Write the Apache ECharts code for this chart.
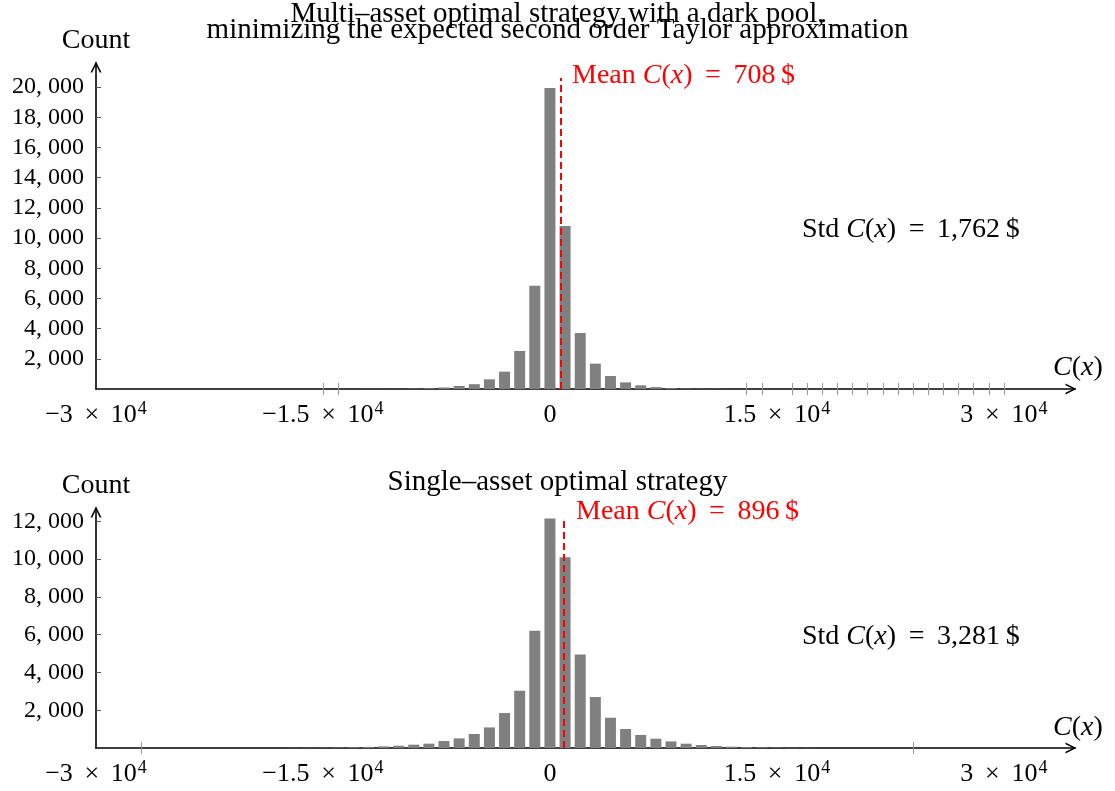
<!DOCTYPE html>
<html lang="en">
<head>
    <meta charset="UTF-8">
    <title>Multi-asset vs single-asset cost histograms</title>
    <style>
        html, body { margin: 0; padding: 0; background: #fff; }
        #main { width: 1115px; height: 791px; }
    </style>
</head>
<body>
    <div id="main"></div>
    <script src="https://cdn.jsdelivr.net/npm/echarts@6/dist/echarts.min.js"></script>
    <script>
        // histogram bins (bin centre in $) and counts
        var multiBins   = [-12000, -11000, -10000, -9000, -8000, -7000, -6000, -5000, -4000, -3000, -2000, -1000, 0, 1000, 2000, 3000, 4000, 5000, 6000, 7000, 8000, 9000, 10000, 11000];
        var multiCounts = [5, 8, 12, 25, 50, 105, 200, 320, 640, 1150, 2520, 6840, 19950, 10800, 3710, 1680, 860, 440, 245, 130, 60, 30, 15, 8];

        var singleBins   = [-17000, -16000, -15000, -14000, -13000, -12000, -11000, -10000, -9000, -8000, -7000, -6000, -5000, -4000, -3000, -2000, -1000, 0, 1000, 2000, 3000, 4000, 5000, 6000, 7000, 8000, 9000, 10000, 11000, 12000, 13000, 14000, 15000, 16000, 17000];
        var singleCounts = [5, 10, 15, 25, 40, 60, 85, 120, 175, 230, 370, 510, 740, 1090, 1850, 3030, 6210, 12150, 10090, 4950, 2700, 1600, 1005, 690, 492, 350, 228, 160, 105, 70, 50, 35, 25, 15, 10];

        var multiMean = 708;
        var singleMean = 896;
        var multiStd = '1,762';
        var singleStd = '3,281';

        var xLabelValues = [-30000, -15000, 0, 15000, 30000];
        var SP = ' \u2009';
        var xLabelText = {
            '-30000': '{b|\u22123' + SP + '\u00d7' + SP + '10}{s|4}',
            '-15000': '{b|\u22121.5' + SP + '\u00d7' + SP + '10}{s|4}',
            '0': '{b|0}',
            '15000': '{b|1.5' + SP + '\u00d7' + SP + '10}{s|4}',
            '30000': '{b|3' + SP + '\u00d7' + SP + '10}{s|4}'
        };
        var multiXTicks = [-15000, -14000, 13000, 14000, 16000, 17000, 18000, 19000, 20000, 21000, 22000, 23000, 24000, 25000, 26000, 27000, 28000, 29000, 30000];
        var singleXTicks = [-27000, 24000];
        var multiYTicks = [2000, 4000, 6000, 8000, 10000, 12000, 14000, 16000, 18000, 20000];
        var singleYTicks = [2000, 4000, 6000, 8000, 10000, 12000];

        var FONT = 'Liberation Serif';
        var arrow = 'path://M0,10 L5,0 L10,10 L8.4,10 L5,3 L1.6,10 Z';

        function pairs(xs, ys) {
            var out = [];
            for (var i = 0; i < xs.length; i++) out.push([xs[i], ys[i]]);
            return out;
        }

        function yFmt(v) {
            return String(v).replace(/(\d+)(\d{3})$/, '$1, $2');
        }

        var TS = 28;
        var rich = {
            n: { fontFamily: FONT, fontSize: TS, fontWeight: 'normal', color: '#000' },
            i: { fontFamily: FONT, fontSize: TS, fontWeight: 'normal', color: '#000', fontStyle: 'italic' },
            rn: { fontFamily: FONT, fontSize: TS, fontWeight: 'normal', color: '#ff0000' },
            ri: { fontFamily: FONT, fontSize: TS, fontWeight: 'normal', color: '#ff0000', fontStyle: 'italic' }
        };
        var EQ = ' \u2009=\u2009 ';

        function mainX(grid, ticks) {
            return {
                type: 'value', gridIndex: grid, min: -30000, max: 34700,
                splitLine: { show: false },
                axisLine: { show: true, onZero: false, symbol: ['none', arrow], symbolSize: [11, 11], symbolOffset: [0, -4],
                            lineStyle: { color: '#000', width: 1.6 } },
                axisTick: { show: true, inside: false, length: 6, customValues: ticks, lineStyle: { color: '#999', width: 1 } },
                axisLabel: {
                    customValues: xLabelValues, margin: 11,
                    formatter: function (v) { return xLabelText[String(v)]; },
                    rich: {
                        b: { fontFamily: FONT, fontSize: 26, color: '#000', lineHeight: 30 },
                        s: { fontFamily: FONT, fontSize: 18, color: '#000', verticalAlign: 'top', lineHeight: 30, padding: [0, 0, 12, 1] }
                    }
                }
            };
        }

        function innerX(grid, ticks) {
            return {
                type: 'value', gridIndex: grid, min: -30000, max: 34700, position: 'bottom',
                splitLine: { show: false }, axisLine: { show: false }, axisLabel: { show: false },
                axisTick: { show: true, inside: true, length: 6, customValues: ticks, lineStyle: { color: '#999', width: 1 } }
            };
        }

        function yAx(grid, max, ticks) {
            return {
                type: 'value', gridIndex: grid, min: 0, max: max,
                name: 'Count', nameLocation: 'end', nameGap: 8,
                nameTextStyle: { fontFamily: FONT, fontSize: TS, color: '#000', align: 'center' },
                splitLine: { show: false },
                axisLine: { show: true, onZero: false, symbol: ['none', arrow], symbolSize: [11, 11], symbolOffset: [0, -4],
                            lineStyle: { color: '#000', width: 1.6 } },
                axisTick: { show: true, inside: true, length: 5, customValues: ticks, lineStyle: { color: '#555', width: 1 } },
                axisLabel: { customValues: ticks, formatter: yFmt, margin: 12, fontFamily: FONT, fontSize: 24, color: '#000' }
            };
        }

        function histSeries(idx, xs, ys, mean, top) {
            return {
                type: 'bar', xAxisIndex: idx * 2, yAxisIndex: idx,
                data: pairs(xs, ys), barWidth: 11, silent: true,
                itemStyle: { color: '#808080' },
                markLine: {
                    silent: true, symbol: 'none', label: { show: false },
                    lineStyle: { color: '#ff0000', type: [7, 4], width: 2 },
                    data: [[{ coord: [mean, 0] }, { coord: [mean, top] }]]
                }
            };
        }

        var titleStyle = { fontFamily: FONT, fontSize: 29, fontWeight: 'normal', color: '#000' };

        var chart = echarts.init(document.getElementById('main'));
        chart.setOption({
            animation: false,
            backgroundColor: '#fff',
            title: [
                { text: 'Multi\u2013asset optimal strategy with a dark pool,', left: 'center', top: -5, textStyle: titleStyle },
                { text: 'minimizing the expected second order Taylor approximation', left: 'center', top: 11, textStyle: titleStyle },
                { text: 'Single\u2013asset optimal strategy', left: 'center', top: 463, textStyle: titleStyle },
                { text: '{rn|Mean }{ri|C}{rn|(}{ri|x}{rn|)' + EQ + multiMean + '\u2009$}', left: 567, top: 57, textStyle: { rich: rich } },
                { text: '{rn|Mean }{ri|C}{rn|(}{ri|x}{rn|)' + EQ + singleMean + '\u2009$}', left: 571, top: 493, textStyle: { rich: rich } },
                { text: '{n|Std }{i|C}{n|(}{i|x}{n|)' + EQ + multiStd + '\u2009$}', left: 797, top: 211, textStyle: { rich: rich } },
                { text: '{n|Std }{i|C}{n|(}{i|x}{n|)' + EQ + singleStd + '\u2009$}', left: 797, top: 618, textStyle: { rich: rich } },
                { text: '{i|C}{n|(}{i|x}{n|)}', left: 1048, top: 349, textStyle: { rich: rich } },
                { text: '{i|C}{n|(}{i|x}{n|)}', left: 1048, top: 709, textStyle: { rich: rich } }
            ],
            grid: [
                { left: 96, top: 63, width: 979, height: 326 },
                { left: 96, top: 508, width: 979, height: 240 }
            ],
            xAxis: [
                mainX(0, multiXTicks), innerX(0, multiXTicks),
                mainX(1, singleXTicks), innerX(1, singleXTicks)
            ],
            yAxis: [
                yAx(0, 21600, multiYTicks),
                yAx(1, 12700, singleYTicks)
            ],
            series: [
                histSeries(0, multiBins, multiCounts, multiMean, 20600),
                histSeries(1, singleBins, singleCounts, singleMean, 12200)
            ]
        });
    </script>
</body>
</html>
